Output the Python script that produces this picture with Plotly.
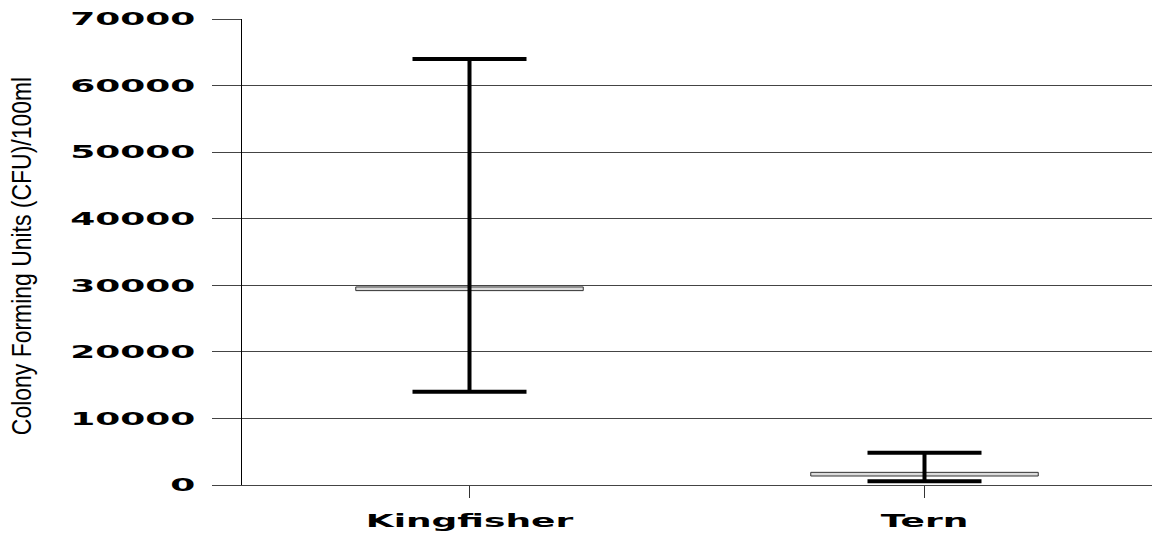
import plotly.graph_objects as go

categories = ["Kingfisher", "Tern"]
box_low = [29200, 1350]
box_high = [29750, 1900]
center = [29450, 1600]
ci_low = [14000, 550]
ci_high = [64000, 4850]
y_ticks = [0, 10000, 20000, 30000, 40000, 50000, 60000, 70000]
y_title = "Colony Forming Units (CFU)/100ml"

fig = go.Figure()
fig.add_trace(go.Bar(
    x=[0, 1], base=box_low, y=[h - l for h, l in zip(box_high, box_low)],
    width=0.5, marker=dict(color="#dcdcdc", line=dict(color="#333333", width=1)),
    showlegend=False, hoverinfo="skip"))
fig.add_trace(go.Scatter(
    x=[0, 1], y=center, mode="markers", marker=dict(size=1, opacity=0),
    error_y=dict(type="data", symmetric=False,
                 array=[h - c for h, c in zip(ci_high, center)],
                 arrayminus=[c - l for c, l in zip(center, ci_low)],
                 color="black", thickness=4, width=57),
    showlegend=False))

tickfont = dict(family="DejaVu Sans", size=18, color="black", weight="bold")
fig.update_layout(
    width=1156, height=535,
    margin=dict(l=242, r=4, t=19, b=50),
    plot_bgcolor="white", paper_bgcolor="white",
    xaxis=dict(range=[-0.5, 1.5], tickvals=[0, 1], ticktext=categories,
               ticks="outside", ticklen=12, tickcolor="#333", tickwidth=1,
               showgrid=False, showline=True, linecolor="#444", linewidth=1,
               tickfont=tickfont, zeroline=False, ticklabelstandoff=7),
    yaxis=dict(range=[0, 70000], tickvals=y_ticks, ticktext=[str(v) for v in y_ticks],
               ticks="outside", ticklen=29, tickcolor="#444", tickwidth=1,
               showgrid=True, gridcolor="#444", gridwidth=1,
               showline=True, linecolor="black", linewidth=1,
               zeroline=False, tickfont=tickfont, ticklabelstandoff=13,
               title=dict(text=y_title, standoff=92,
                          font=dict(family="Liberation Sans", size=28, color="black"))),
)

post = """
document.body.style.margin = '0';
var gd = document.getElementById('{plot_id}');
function stretch(sel, sx, dx) {
  gd.querySelectorAll(sel).forEach(function(t){
    var tr = t.getAttribute('transform') || '';
    if (tr.indexOf('scale(') >= 0) return;
    var x = parseFloat(t.getAttribute('x')) || 0;
    t.setAttribute('transform', tr + ' translate(' + (x + dx) + ',0) scale(' + sx + ',1) translate(' + (-x) + ',0)');
  });
}
function applyAll() {
  stretch('.ytick text', 2.0, 0);
  stretch('.xtick text', 2.0, 0);
  stretch('text.ytitle', 0.82, -4);
}
applyAll();
if (gd.on) gd.on('plotly_afterplot', applyAll);
[0, 30, 100, 250, 500, 1000].forEach(function(ms){ setTimeout(applyAll, ms); });
var mo = new MutationObserver(function(){ applyAll(); });
mo.observe(gd, {subtree: true, childList: true, attributes: true, attributeFilter: ['transform', 'x']});
"""
fig.write_html("out.html", post_script=post, config={"displayModeBar": False})
